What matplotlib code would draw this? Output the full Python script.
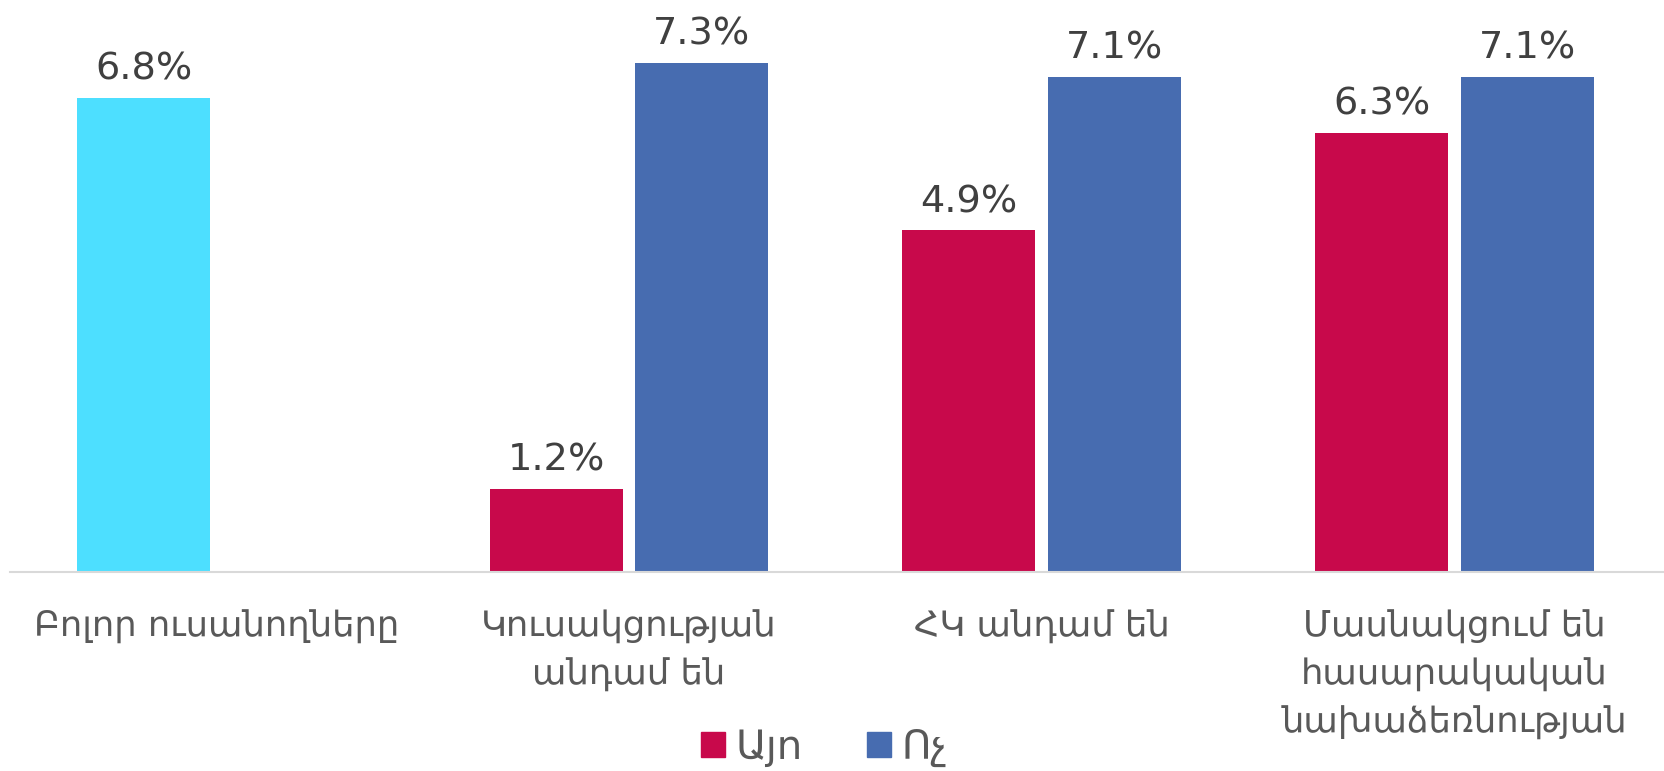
import numpy as np
import matplotlib
matplotlib.use("Agg")
import matplotlib.pyplot as plt
from matplotlib.patches import Patch

plt.rcParams['font.family'] = ['DejaVu Sans']

# data
categories = ["Բոլոր ուսանողները",
              "Կուսակցության\nանդամ են",
              "ՀԿ անդամ են",
              "Մասնակցում են\nհասարակական\nնախաձեռնության"]
yes_vals = [6.8, 1.2, 4.9, 6.3]
no_vals = [np.nan, 7.3, 7.1, 7.1]
series_names = ["Այո", "Ոչ"]

cyan = "#4DDFFF"
red = "#C8094B"
blue = "#476CB0"

fig = plt.figure(figsize=(16.65, 7.71), dpi=100)
ax = fig.add_axes([0.006, 0.2576, 0.994, 0.7424])

x = np.arange(len(categories))
w = 0.322
off = 0.1765
yes_colors = [cyan] + [red] * (len(yes_vals) - 1)

bars_yes = ax.bar(x - off, yes_vals, width=w, color=yes_colors)
bars_no = ax.bar(x + off, no_vals, width=w, color=blue)

for bars, vals in [(bars_yes, yes_vals), (bars_no, no_vals)]:
    for b, v in zip(bars, vals):
        if np.isnan(v):
            continue
        ax.annotate(f"{v:.1f}%", (b.get_x() + b.get_width() / 2, v),
                    xytext=(0, 13), textcoords="offset points",
                    ha="center", va="baseline", fontsize=27.5, color="#404040")

ax.set_xlim(-0.5, 3.51)
ax.set_ylim(0, 8.2)
ax.set_yticks([])
ax.set_xticks(x)
ax.set_xticklabels(categories, fontsize=25.5, color="#595959", linespacing=1.5)
ax.tick_params(axis="x", length=0, pad=27)
for s in ["top", "right", "left"]:
    ax.spines[s].set_visible(False)
ax.spines["bottom"].set_color("#D9D9D9")
ax.spines["bottom"].set_linewidth(1.5)

handles = [Patch(color=red), Patch(color=blue)]
fig.legend(handles, series_names, loc="center", bbox_to_anchor=(0.495, 0.03),
           ncol=2, frameon=False, fontsize=29, labelcolor="#595959",
           handlelength=0.6, handleheight=0.6, handletextpad=0.25,
           columnspacing=1.6)

fig.savefig("out.png", dpi=100)
